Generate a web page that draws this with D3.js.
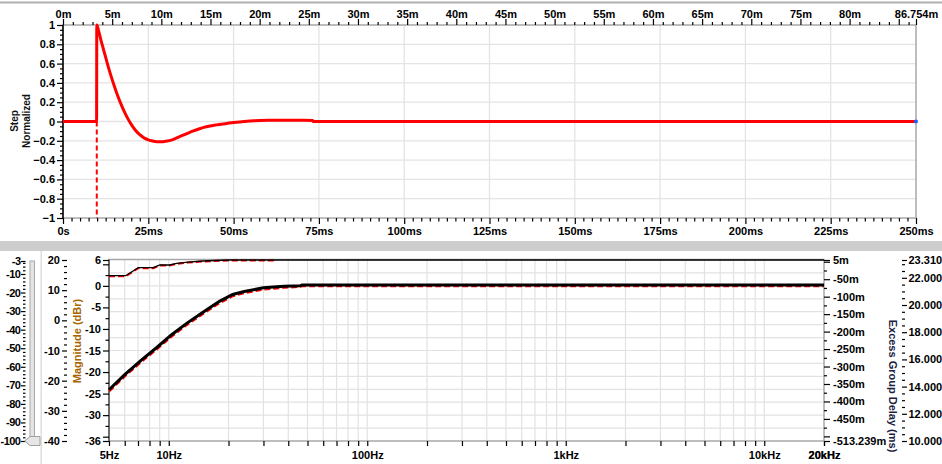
<!DOCTYPE html>
<html><head><meta charset="utf-8">
<script src="https://cdn.jsdelivr.net/npm/d3@7"></script>
<style>
body{margin:0;background:#fff;}
svg{display:block;font-family:"Liberation Sans",Arial,sans-serif;}
.axis text{font-size:11px;font-weight:bold;fill:#000;}
.slider text{letter-spacing:-0.5px;}
</style></head><body>
<svg id="c" width="942" height="464"></svg>
<script>
// ---------- DATA ----------
// Top panel: step response
const timeMajorTicks = [0,25,50,75,100,125,150,175,200,225,250];
const timeTickLabels = ["0s","25ms","50ms","75ms","100ms","125ms","150ms","175ms","200ms","225ms","250ms"];
const distMajorTicks = [0,5,10,15,20,25,30,35,40,45,50,55,60,65,70,75,80,85,86.754];
const distTickLabels = ["0m","5m","10m","15m","20m","25m","30m","35m","40m","45m","50m","55m","60m","65m","70m","75m","80m","","86.754m"];
const normTicks = [-1,-0.8,-0.6,-0.4,-0.2,0,0.2,0.4,0.6,0.8,1];
const stepTime  = [0,9.85,9.9,10.5,11,12,13,14,15,16,17,18,19,20,21,22,23,24,25,26,27,28,29,30,32,34,36,38,40,42,45,48,50,53,56,60,65,70,73.2,73.3,250];
const stepValue = [0,0,1,0.93,0.86,0.73,0.6,0.48,0.37,0.27,0.18,0.1,0.03,-0.03,-0.08,-0.12,-0.15,-0.175,-0.19,-0.2,-0.207,-0.21,-0.21,-0.205,-0.19,-0.16,-0.13,-0.1,-0.075,-0.055,-0.035,-0.02,-0.01,0,0.008,0.012,0.013,0.012,0.01,0,0];
const stepMarkerTime = 9.9;

// Bottom panel: magnitude and excess group delay
const freqMajorTicks = [5,10,100,1000,10000,20000];
const freqTickLabels = ["5Hz","10Hz","100Hz","1kHz","10kHz","20kHz"];
const magFreq  = [5,6,7.2,8.7,10.3,12.3,15,18,21,24,30,38,46,47,20000];
const magBlack = [-24.1,-20.6,-17.4,-14.3,-11.4,-8.7,-6.0,-3.6,-2.0,-1.3,-0.45,-0.1,0.0,0.2,0.2];
const magRed   = [-24.4,-20.9,-17.7,-14.6,-11.7,-9.0,-6.3,-3.9,-2.3,-1.6,-0.75,-0.35,-0.1,0,0];
const delayFreqBlack = [5,6.07,7.02,8.35,9.03,10.1,10.96,12.5,14.9,17,20.3,20000];
const delayBlack     = [-40,-40,-17,-17,-9.3,-9.3,-4.4,-1,2.1,3.5,5,5];
const delayFreqRed   = [5,6.07,7.02,8.35,9.03,10.1,10.96,12.5,14.9,17,20.3,34.9];
const delayRed       = [-41.5,-41.5,-18.5,-18.5,-10.8,-10.8,-5.8,-2.5,0.8,2.2,3.6,3.6];
const magTicks    = [6,5,0,-5,-10,-15,-20,-25,-30,-35,-36];
const magTickLabels = ["6","","0","-5","-10","-15","-20","-25","-30","","-36"];
const dbrTicks    = [20,10,0,-10,-20,-30,-40];
const delayTicks  = [5,0,-50,-100,-150,-200,-250,-300,-350,-400,-450,-500,-513.239];
const delayTickLabels = ["5m","","-50m","-100m","-150m","-200m","-250m","-300m","-350m","-400m","-450m","","-513.239m"];
const gdTicks     = [23.31,22,20,18,16,14,12,10];
const gdTickLabels = ["23.310","22.000","20.000","18.000","16.000","14.000","12.000","10.000"];
const sliderTicks = [-3,-10,-20,-30,-40,-50,-60,-70,-80,-90,-100];
const sliderValue = -100;

// ---------- DRAW ----------
const svg = d3.select("#c");
const range = (a,b,s)=>d3.range(a,b+s/2,s).map(v=>+v.toFixed(4));

// panel decorations
svg.append("rect").attr("x",0).attr("y",1.5).attr("width",942).attr("height",2).attr("fill","#b0b0b0");
svg.append("rect").attr("x",0).attr("y",241).attr("width",942).attr("height",10).attr("fill","#cdcdcd");
svg.append("rect").attr("x",40.5).attr("y",251).attr("width",1.5).attr("height",213).attr("fill","#dedede");

function axis(orient, scale, major, labels, minor, x, y, majLen, minLen, pad) {
  const make = {left:d3.axisLeft,right:d3.axisRight,top:d3.axisTop,bottom:d3.axisBottom}[orient];
  const g = svg.append("g").attr("class","axis").attr("transform",`translate(${x},${y})`);
  if (minor.length) g.append("g").call(make(scale).tickValues(minor).tickSize(minLen).tickFormat(""));
  g.append("g").call(make(scale).tickValues(major).tickSize(majLen).tickPadding(pad)
    .tickFormat((d,i)=>labels[i]));
  g.selectAll(".domain").remove();
  g.selectAll("line").attr("stroke","#000").attr("stroke-width",1.2);
  return g;
}

// ===== TOP PANEL =====
const xT = d3.scaleLinear([0,250],[63,916]);
const xDist = d3.scaleLinear([0,86.754],[63,916]);
const yT = d3.scaleLinear([-1,1],[218,25]);

const gridT = svg.append("g").attr("stroke","#e4e4e4").attr("stroke-width",1.3);
gridT.selectAll("v").data(timeMajorTicks.slice(1,-1)).join("line")
  .attr("x1",d=>xT(d)).attr("x2",d=>xT(d)).attr("y1",yT(1)).attr("y2",yT(-1));
gridT.selectAll("h").data(normTicks.slice(1,-1)).join("line")
  .attr("x1",xT(0)).attr("x2",xT(250)).attr("y1",d=>yT(d)).attr("y2",d=>yT(d));

// frame
svg.append("rect").attr("x",xT(0)).attr("y",yT(1)).attr("width",xT(250)-xT(0)).attr("height",yT(-1)-yT(1))
  .attr("fill","none").attr("stroke","#a8a8a8").attr("stroke-width",1.5);
svg.append("line").attr("x1",xT(0)).attr("x2",xT(0)).attr("y1",yT(1)).attr("y2",yT(-1)).attr("stroke","#000").attr("stroke-width",1.5);

axis("left", yT, normTicks, normTicks.map(d=>d3.format("~g")(d)), range(-1,1,0.05).filter(v=>Math.abs(v*5-Math.round(v*5))>1e-6), xT(0), 0, 6, 3, 2);
axis("bottom", xT, timeMajorTicks, timeTickLabels, range(0,250,2.5).filter(v=>v%25!==0), 0, yT(-1), 6, 3.5, 3);
axis("top", xDist, distMajorTicks, distTickLabels, range(0,86,1).filter(v=>v%5!==0), 0, yT(1), 6, 3, 1.5);

svg.append("text").attr("transform",`translate(18,121) rotate(-90)`).attr("text-anchor","middle")
  .attr("font-size",10).attr("font-weight","bold").attr("fill","#111").text("Step");
svg.append("text").attr("transform",`translate(29.5,121) rotate(-90)`).attr("text-anchor","middle")
  .attr("font-size",10).attr("font-weight","bold").attr("fill","#111").text("Normalized");

// dashed marker
svg.append("line").attr("x1",xT(stepMarkerTime)).attr("x2",xT(stepMarkerTime)).attr("y1",yT(0)).attr("y2",yT(-1))
  .attr("stroke","#ff0000").attr("stroke-width",2).attr("stroke-dasharray","5,3");
const stepData = stepTime.map((t,i)=>[t,stepValue[i]]);
svg.append("path").datum(stepData)
  .attr("d",d3.line().x(d=>xT(d[0])).y(d=>yT(d[1])).curve(d3.curveMonotoneX))
  .attr("fill","none").attr("stroke","#ff0000").attr("stroke-width",3);
svg.append("circle").attr("cx",xT(250)).attr("cy",yT(0)).attr("r",2).attr("fill","#2060ff");

// ===== BOTTOM PANEL =====
const xF = d3.scaleLog([5,20000],[109,824]);
const yM = d3.scaleLinear([-36,6],[441,260]);
const yDel = d3.scaleLinear([-513.239,5],[441,260]);
const yGD = d3.scaleLinear([10,23.31],[441,260]);
const yDb = d3.scaleLinear([-40,20],[441,260]);
const ySl = d3.scaleLinear([-100,-3],[441,261]);

const logTicks = [];
[1,10,100,1000,10000].forEach(dec=>{for(let m=1;m<10;m++){const f=m*dec; if(f>=5&&f<=20000) logTicks.push(f);}});
logTicks.push(20000);

const gridB = svg.append("g").attr("stroke","#e2e2e2").attr("stroke-width",1.2);
gridB.selectAll("v").data(logTicks.filter(f=>f>5&&f<20000)).join("line")
  .attr("x1",d=>xF(d)).attr("x2",d=>xF(d)).attr("y1",yM(6)).attr("y2",yM(-36));
gridB.selectAll("h").data(range(-33,3,3)).join("line")
  .attr("x1",xF(5)).attr("x2",xF(20000)).attr("y1",d=>yM(d)).attr("y2",d=>yM(d));

svg.append("rect").attr("x",xF(5)).attr("y",yM(6)-0.5).attr("width",xF(20000)-xF(5)).attr("height",yM(-36)-yM(6)+0.5)
  .attr("fill","none").attr("stroke","#a8a8a8").attr("stroke-width",1.5);
svg.append("line").attr("x1",xF(5)).attr("x2",xF(5)).attr("y1",yM(6)-0.5).attr("y2",yM(-36)).attr("stroke","#555").attr("stroke-width",1.5);

// axes
axis("left", yM, magTicks, magTickLabels, range(-35,5,2.5).filter(v=>v%5!==0), xF(5), 0, 6, 3.5, 2);
axis("left", yDb, dbrTicks, dbrTicks.map(String), range(-40,20,2).filter(v=>v%10!==0), 67, 0, 5, 3, 2);
axis("left", ySl, sliderTicks, sliderTicks.map(String), range(-98,-4,2).filter(v=>v%10!==0), 25.5, 0, 4.5, 2.5, 0.5).attr("class","axis slider");
axis("right", yDel, delayTicks, delayTickLabels, range(-475,-25,50), xF(20000), 0, 6, 3, 3);
axis("right", yGD, gdTicks, gdTickLabels, range(10.5,23,0.5).filter(v=>v%2!==0), 902, 0, 5, 3, 1.5);
axis("bottom", xF, logTicks, logTicks.map(f=>{const i=freqMajorTicks.indexOf(f); return i>=0?freqTickLabels[i]:"";}), [], 0, yM(-36), 5, 4, 5);

svg.append("text").attr("transform",`translate(81,341) rotate(-90)`).attr("text-anchor","middle")
  .attr("font-size",11).attr("font-weight","bold").attr("fill","#a86400").text("Magnitude (dBr)");
svg.append("text").attr("transform",`translate(889,386) rotate(90)`).attr("text-anchor","middle")
  .attr("font-size",11).attr("font-weight","bold").attr("fill","#1a2040").text("Excess Group Delay (ms)");

// slider
svg.append("rect").attr("x",30).attr("y",261).attr("width",4.5).attr("height",180)
  .attr("fill","#e4e4e4").attr("stroke","#a8a8a8").attr("stroke-width",1);
const ty = ySl(sliderValue);
svg.append("path").attr("d",`M24.7,${ty} L30,${ty-4.5} L40,${ty-4.5} L40,${ty+4.5} L30,${ty+4.5} Z`)
  .attr("fill","#e6e6e6").attr("stroke","#a0a0a0").attr("stroke-width",1);

// curves
const lineM = d3.line().x(d=>xF(d[0])).y(d=>yM(d[1]));
const lineD = d3.line().x(d=>xF(d[0])).y(d=>yDel(d[1]));
svg.append("path").datum(delayFreqRed.map((f,i)=>[f,delayRed[i]])).attr("d",lineD)
  .attr("fill","none").attr("stroke","#ff0000").attr("stroke-width",2).attr("stroke-dasharray","6,3");
svg.append("path").datum(delayFreqBlack.map((f,i)=>[f,delayBlack[i]])).attr("d",lineD)
  .attr("fill","none").attr("stroke","#000").attr("stroke-width",1.3);
svg.append("path").datum(magFreq.map((f,i)=>[f,magRed[i]])).attr("d",lineM)
  .attr("fill","none").attr("stroke","#ff0000").attr("stroke-width",3).attr("stroke-dasharray","6,3");
svg.append("path").datum(magFreq.map((f,i)=>[f,magBlack[i]])).attr("d",lineM)
  .attr("fill","none").attr("stroke","#000").attr("stroke-width",3);
</script>
</body></html>
